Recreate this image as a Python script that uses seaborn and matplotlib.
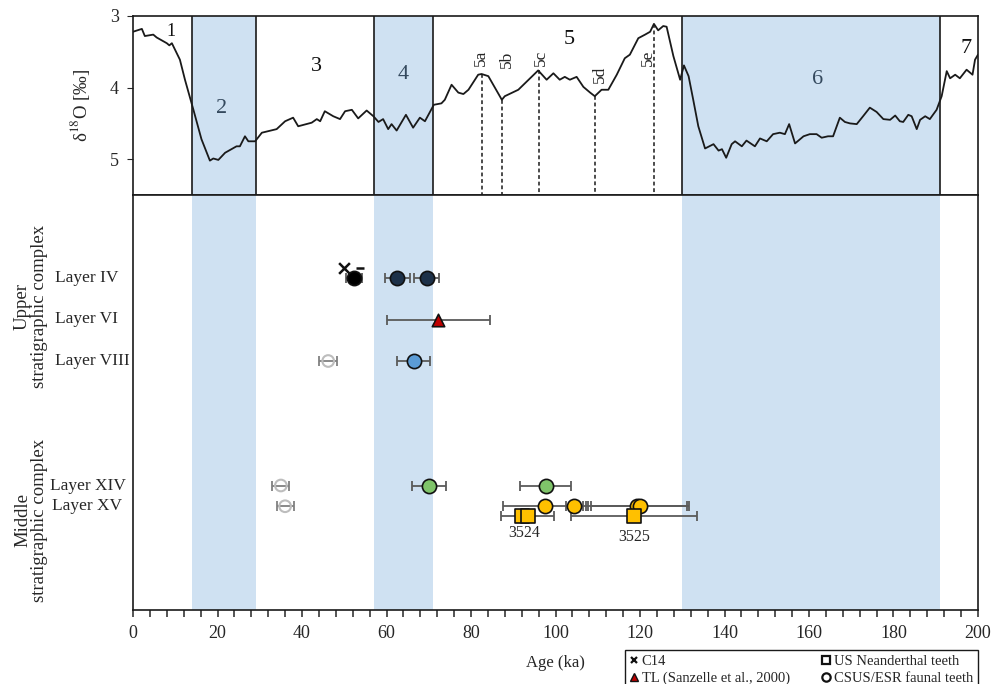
import matplotlib
matplotlib.use("Agg")
import matplotlib.pyplot as plt
import seaborn as sns
from matplotlib.lines import Line2D
from matplotlib.ticker import MultipleLocator

# benthic d18O stack (ka, per mil)
MIS_AGE = [0.0, 2.1, 2.8, 4.8, 5.6, 8.0, 8.6, 9.2, 11.1, 12.3, 14.3, 16.2, 18.2, 19.0,
           20.2, 21.8, 24.5, 25.3, 26.5, 27.3, 28.9, 30.5, 34.0, 36.0, 37.9, 39.1, 42.3,
           43.5, 44.3, 45.4, 47.4, 49.0, 50.2, 51.8, 53.3, 55.3, 56.9, 58.1, 59.2, 60.4,
           61.2, 62.4, 64.6, 66.3, 67.9, 69.1, 71.2, 73.0, 73.8, 75.4, 77.0, 78.2, 79.4,
           81.7, 82.5, 84.1, 87.3, 88.0, 91.2, 94.0, 95.9, 97.9, 99.5, 101.0, 102.2,
           103.4, 105.0, 106.6, 108.2, 109.3, 110.9, 112.5, 114.5, 116.4, 117.6, 119.6,
           121.2, 122.4, 123.3, 124.3, 125.5, 126.3, 127.9, 129.5, 130.4, 131.5, 132.6,
           133.8, 135.4, 137.4, 138.6, 139.4, 140.4, 141.7, 142.5, 144.1, 145.2, 147.2,
           148.4, 150.0, 151.5, 153.1, 154.3, 155.3, 156.7, 158.7, 160.2, 161.8, 163.0,
           164.5, 165.7, 167.3, 168.5, 169.7, 171.3, 172.8, 174.4, 176.0, 177.6, 179.2,
           180.4, 181.5, 182.3, 183.5, 184.3, 185.5, 186.3, 187.5, 188.6, 190.2, 191.4,
           192.2, 192.6, 193.4, 194.6, 195.7, 197.3, 198.7, 199.3, 200.0]
MIS_D18O = [3.22, 3.18, 3.28, 3.26, 3.30, 3.38, 3.41, 3.38, 3.61, 3.89, 4.31, 4.72, 5.02,
            4.99, 5.01, 4.91, 4.82, 4.82, 4.68, 4.75, 4.75, 4.63, 4.58, 4.47, 4.42, 4.54,
            4.49, 4.44, 4.47, 4.33, 4.40, 4.44, 4.33, 4.31, 4.43, 4.32, 4.40, 4.48, 4.44,
            4.58, 4.51, 4.60, 4.38, 4.56, 4.42, 4.47, 4.24, 4.22, 4.17, 3.96, 4.07, 4.09,
            4.03, 3.82, 3.81, 3.84, 4.17, 4.12, 4.03, 3.87, 3.76, 3.89, 3.80, 3.89, 3.85,
            3.89, 3.85, 3.99, 4.07, 4.12, 4.03, 4.03, 3.82, 3.59, 3.54, 3.31, 3.26, 3.22,
            3.11, 3.20, 3.14, 3.15, 3.56, 3.89, 3.69, 3.84, 4.17, 4.54, 4.85, 4.79, 4.88,
            4.86, 4.98, 4.79, 4.75, 4.82, 4.74, 4.82, 4.71, 4.75, 4.65, 4.63, 4.65, 4.51,
            4.78, 4.68, 4.65, 4.65, 4.70, 4.68, 4.68, 4.42, 4.48, 4.50, 4.51, 4.40, 4.28,
            4.34, 4.44, 4.45, 4.39, 4.47, 4.48, 4.38, 4.40, 4.58, 4.45, 4.40, 4.44, 4.31,
            4.12, 3.89, 3.77, 3.87, 3.82, 3.87, 3.75, 3.82, 3.61, 3.54]

STAGE_BOUNDS = [14, 29, 57, 71, 130, 191]
COLD_STAGES = [(14, 29), (57, 71), (130, 191)]
STAGE_NAMES = ["1", "2", "3", "4", "5", "6", "7"]
STAGE_LABEL_AGE = [9.1, 21.0, 43.3, 64.0, 103.3, 162.1, 197.1]
STAGE_LABEL_D18O = [3.22, 4.29, 3.71, 3.82, 3.33, 3.89, 3.46]

SUB_NAMES = ["5a", "5b", "5c", "5d", "5e"]
SUB_AGE = [82.5, 87.3, 96.0, 109.4, 123.3]
SUB_PEAK = [3.81, 4.17, 3.76, 4.12, 3.11]
SUB_LABEL_AGE = [82.4, 88.4, 96.6, 110.6, 121.9]
SUB_LABEL_D18O = [3.59, 3.60, 3.59, 3.82, 3.59]

# dates (ka) per layer
LAYERS = ["Layer IV", "Layer VI", "Layer VIII", "Layer XIV", "Layer XV"]
DATE_LAYER = ["Layer IV", "Layer IV", "Layer IV", "Layer VI", "Layer VIII", "Layer VIII",
              "Layer XIV", "Layer XIV", "Layer XIV", "Layer XV", "Layer XV", "Layer XV",
              "Layer XV", "Layer XV"]
DATE_AGE = [52.3, 62.6, 69.5, 72.3, 46.2, 66.4, 35.0, 70.0, 97.7, 36.0, 97.6, 104.4,
            119.2, 120.0]
DATE_ERR = [1.8, 3.0, 3.0, 12.2, 2.1, 4.0, 2.0, 4.0, 6.0, 2.0, 10.0, 2.0, 12.0, 11.5]
DATE_SET = ["IV_c14cal", "IV", "IV", "TL", "old", "VIII", "old", "XIV", "XIV", "old",
            "XV", "XV", "XV", "XV"]

C14_AGE = [49.9]
C14_ERR_AGE = [53.8]

TOOTH_ID = ["3524", "3524", "3525"]
TOOTH_AGE = [92.0, 93.4, 118.6]
TOOTH_ERR = [0.0, 6.3, 15.0]

ROW_Y = {"Layer IV": 8.0, "Layer VI": 7.0, "Layer VIII": 6.0, "Layer XIV": 3.0,
         "Layer XV": 2.5}
SET_COLORS = {"IV_c14cal": "#000000", "IV": "#1d3149", "TL": "#c00000",
              "VIII": "#5b9bd5", "XIV": "#7fc46a", "XV": "#ffc000"}
SHADE = "#cfe1f2"

sns.set_style("ticks")
plt.rcParams["font.family"] = ["Liberation Serif", "DejaVu Serif"]
plt.rcParams["mathtext.fontset"] = "stix"

W, H = 993, 684
fig = plt.figure(figsize=(W / 100, H / 100), dpi=100)
ax1 = fig.add_axes([133 / W, 1 - 195 / H, 845 / W, 179 / H])
ax2 = fig.add_axes([133 / W, 1 - 610 / H, 845 / W, 415 / H])

# ---- top panel: d18O curve
for a, b in COLD_STAGES:
    ax1.axvspan(a, b, color=SHADE, lw=0, zorder=0)
    ax2.axvspan(a, b, color=SHADE, lw=0, zorder=0)
for b in STAGE_BOUNDS:
    ax1.axvline(b, color="#1a1a1a", lw=1.2, zorder=1)

sns.lineplot(x=MIS_AGE, y=MIS_D18O, ax=ax1, sort=False, estimator=None,
             color="#1a1a1a", lw=1.3, zorder=3)

for age, peak in zip(SUB_AGE, SUB_PEAK):
    ax1.plot([age, age], [peak, 5.5], ls=(0, (2.5, 1.8)), color="#1a1a1a", lw=1.1,
             zorder=2)
for name, x, y in zip(SUB_NAMES, SUB_LABEL_AGE, SUB_LABEL_D18O):
    ax1.text(x, y, name, rotation=90, ha="center", va="center", fontsize=12.5)
for name, x, y in zip(STAGE_NAMES, STAGE_LABEL_AGE, STAGE_LABEL_D18O):
    col = "#34495e" if name in ("2", "4", "6") else "#111111"
    ax1.text(x, y, name, ha="center", va="center",
             fontsize=13 if name == "1" else 16, color=col)

ax1.set_xlim(0, 200)
ax1.set_ylim(5.5, 3)
ax1.set_yticks([3, 4, 5])
ax1.set_xticks([])
ax1.tick_params(axis="y", direction="out", length=4, labelsize=13, pad=6)
ax1.set_ylabel("δ$^{18}$O [‰]", fontsize=13.5, labelpad=13)
for s in ax1.spines.values():
    s.set_color("#1a1a1a")
    s.set_linewidth(1.2)

# ---- bottom panel: dates
ecol = "#5a5a5a"
for lay, age, err, st in zip(DATE_LAYER, DATE_AGE, DATE_ERR, DATE_SET):
    y = ROW_Y[lay]
    c = "#808080" if st == "old" else ecol
    ax2.errorbar(age, y, xerr=err, fmt="none", ecolor=c, elinewidth=1.3,
                 capsize=3.5, capthick=1.3, zorder=2)

old_x = [a for a, s in zip(DATE_AGE, DATE_SET) if s == "old"]
old_y = [ROW_Y[l] for l, s in zip(DATE_LAYER, DATE_SET) if s == "old"]
ax2.scatter(old_x, old_y, s=70, facecolors="none", edgecolors="#bdbdbd",
            linewidths=1.5, zorder=4)

for st, col in SET_COLORS.items():
    xs = [a for a, s in zip(DATE_AGE, DATE_SET) if s == st]
    ys = [ROW_Y[l] for l, s in zip(DATE_LAYER, DATE_SET) if s == st]
    mk = "^" if st == "TL" else "o"
    sz = 80 if st == "TL" else 105
    sns.scatterplot(x=xs, y=ys, ax=ax2, marker=mk, s=sz, color=col,
                    edgecolor="#111111", linewidth=1.2, zorder=5, legend=False)

# C14 date of layer IV
ax2.scatter(C14_AGE, [ROW_Y["Layer IV"] + 0.25], marker="x", s=60, color="#111111",
            linewidths=1.8, zorder=6)
ax2.scatter(C14_ERR_AGE, [ROW_Y["Layer IV"] + 0.25], marker="_", s=40,
            color="#111111", linewidths=1.8, zorder=6)

# Neanderthal teeth (US)
tooth_y = ROW_Y["Layer XV"] - 0.23
for age, err in zip(TOOTH_AGE, TOOTH_ERR):
    if err > 0:
        ax2.errorbar(age, tooth_y, xerr=err, fmt="none", ecolor=ecol, elinewidth=1.3,
                     capsize=3.5, capthick=1.3, zorder=2)
sns.scatterplot(x=TOOTH_AGE, y=[tooth_y] * len(TOOTH_AGE), ax=ax2, marker="s", s=110,
                color="#ffc000", edgecolor="#111111", linewidth=1.2, zorder=5,
                legend=False)
for tid in sorted(set(TOOTH_ID)):
    ages = [a for a, t in zip(TOOTH_AGE, TOOTH_ID) if t == tid]
    ax2.text(sum(ages) / len(ages), tooth_y - 0.42 - (0.1 if tid == "3525" else 0),
             tid, ha="center", va="center", fontsize=11.5)

ax2.set_xlim(0, 200)
ax2.set_ylim(0, 10)
ax2.set_yticks([])
ax2.xaxis.set_major_locator(MultipleLocator(20))
ax2.xaxis.set_minor_locator(MultipleLocator(4))
ax2.tick_params(axis="x", which="both", direction="out", length=5, width=1.1,
                labelsize=13, pad=6)
ax2.set_xlabel("Age (ka)", fontsize=12, labelpad=9)
for s in ax2.spines.values():
    s.set_color("#1a1a1a")
    s.set_linewidth(1.2)

# layer names and complexes
label_x = {"Layer IV": 55, "Layer VI": 55, "Layer VIII": 55, "Layer XIV": 50,
           "Layer XV": 52}
for lay in LAYERS:
    py = 610 - ROW_Y[lay] * 41.5
    fig.text(label_x[lay] / W, 1 - py / H, lay, ha="left", va="center", fontsize=12.5)
fig.text(31 / W, 1 - 306 / H, "Upper\nstratigraphic complex", rotation=90,
         ha="center", va="center", fontsize=13.5, linespacing=1.0,
         multialignment="center")
fig.text(31 / W, 1 - 520 / H, "Middle\nstratigraphic complex", rotation=90,
         ha="center", va="center", fontsize=13.5, linespacing=1.0,
         multialignment="center")

handles = [
    Line2D([], [], ls="none", marker="x", color="#111111", ms=5, mew=1.6),
    Line2D([], [], ls="none", marker="^", mfc="#c00000", mec="#111111", ms=6),
    Line2D([], [], ls="none", marker="s", mfc="none", mec="#111111", ms=6, mew=1.6),
    Line2D([], [], ls="none", marker="o", mfc="none", mec="#111111", ms=6, mew=1.6),
]
labels = ["C14", "TL (Sanzelle et al., 2000)", "US Neanderthal teeth",
          "CSUS/ESR faunal teeth"]
leg = fig.legend(handles, labels, ncol=2, loc="upper left", mode="expand",
                 bbox_to_anchor=(625 / W, 1 - 650 / H, 353 / W, 0), borderaxespad=0,
                 fontsize=10.5, handlelength=0.6, handletextpad=0.2, fancybox=False,
                 edgecolor="#1a1a1a", framealpha=1, borderpad=0.35, labelspacing=0.25)
leg.get_frame().set_linewidth(1.0)

fig.savefig("out.png", dpi=100)
